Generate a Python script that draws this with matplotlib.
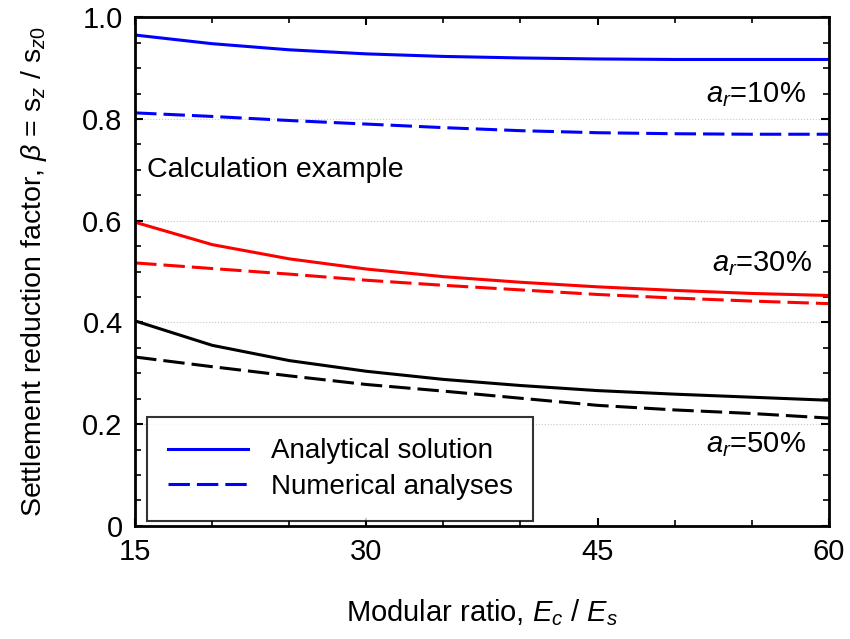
import matplotlib.pyplot as plt
import numpy as np

plt.rcParams['font.family'] = ['Liberation Sans', 'DejaVu Sans']
plt.rcParams['mathtext.fontset'] = 'custom'
plt.rcParams['mathtext.rm'] = 'Liberation Sans'
plt.rcParams['mathtext.it'] = 'Liberation Sans:italic'

# Modular ratio Ec/Es
ratio = [15, 20, 25, 30, 35, 40, 45, 50, 55, 60]
# ar = 10 %
ana_10 = [0.965, 0.948, 0.936, 0.928, 0.923, 0.920, 0.918, 0.917, 0.917, 0.917]
num_10 = [0.812, 0.805, 0.797, 0.790, 0.783, 0.777, 0.773, 0.771, 0.770, 0.770]
# ar = 30 %
ana_30 = [0.597, 0.553, 0.525, 0.505, 0.490, 0.479, 0.470, 0.463, 0.457, 0.453]
num_30 = [0.517, 0.506, 0.495, 0.483, 0.473, 0.464, 0.455, 0.448, 0.442, 0.437]
# ar = 50 %
ana_50 = [0.403, 0.355, 0.325, 0.304, 0.288, 0.276, 0.266, 0.259, 0.253, 0.247]
num_50 = [0.332, 0.313, 0.295, 0.278, 0.265, 0.251, 0.237, 0.228, 0.221, 0.212]

fig = plt.figure(figsize=(8.5, 6.39), dpi=100)
ax = fig.add_axes([0.159, 0.177, 0.816, 0.796])

dash = (7, 2.3)
ax.plot(ratio, ana_10, color='#0000ff', lw=2.2, label='Analytical solution')
ax.plot(ratio, num_10, color='#0000ff', lw=2.2, dashes=dash, label='Numerical analyses')
ax.plot(ratio, ana_30, color='#ff0000', lw=2.2)
ax.plot(ratio, num_30, color='#ff0000', lw=2.2, dashes=dash)
ax.plot(ratio, ana_50, color='black', lw=2.2)
ax.plot(ratio, num_50, color='black', lw=2.2, dashes=dash)

ax.set_xlim(15, 60)
ax.set_ylim(0, 1.0)
ax.set_xticks([15, 30, 45, 60])
ax.set_xticks(np.arange(15, 61, 5), minor=True)
ax.set_yticks([0, 0.2, 0.4, 0.6, 0.8, 1.0])
ax.set_yticklabels(['0', '0.2', '0.4', '0.6', '0.8', '1.0'])
ax.set_yticks(np.arange(0, 1.01, 0.05), minor=True)
ax.tick_params(which='both', direction='in', top=True, right=True, labelsize=21, pad=9)
ax.tick_params(which='major', length=6, width=1.5)
ax.tick_params(which='minor', length=4, width=1.2)
for s in ax.spines.values():
    s.set_linewidth(2)

for g in [0.2, 0.4, 0.6, 0.8]:
    ax.axhline(g, color='#c8c8c8', lw=0.8, ls=':', zorder=0)

ax.text(15.8, 0.70, 'Calculation example', fontsize=20.5, va='center')
ax.text(58.5, 0.847, r'$a_r$=10%', fontsize=21, ha='right', va='center')
ax.text(58.9, 0.515, r'$a_r$=30%', fontsize=21, ha='right', va='center')
ax.text(58.5, 0.16, r'$a_r$=50%', fontsize=21, ha='right', va='center')

leg = ax.legend(loc='lower left', fontsize=20, frameon=True, fancybox=False,
                edgecolor='black', handlelength=2.9, handletextpad=0.8,
                borderpad=0.75, labelspacing=0.35, borderaxespad=0,
                bbox_to_anchor=(0.017, 0.01))
leg.get_frame().set_linewidth(1.5)

ax.set_xlabel(r'Modular ratio, $E_c$ / $E_s$', fontsize=21, labelpad=22)
ax.set_ylabel(r'Settlement reduction factor, $\beta$ = s$_z$ / s$_{z0}$', fontsize=20.5, labelpad=24)

fig.savefig('out.png', dpi=100)
